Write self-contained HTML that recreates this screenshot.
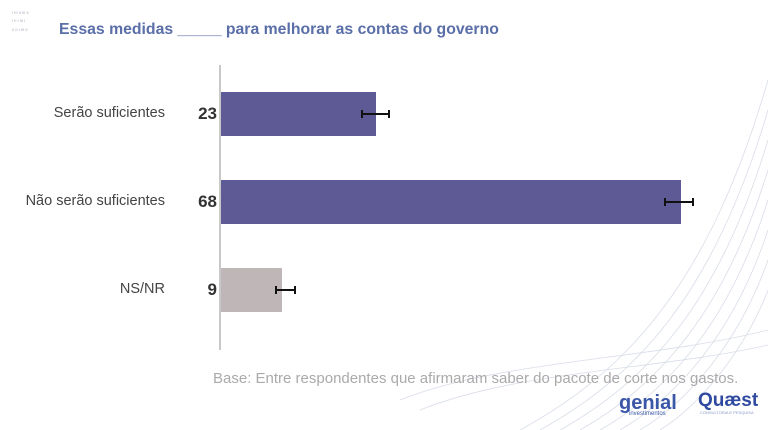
<!DOCTYPE html>
<html><head><meta charset="utf-8"><style>
html,body{margin:0;padding:0;background:#fff;}
body{width:768px;height:430px;position:relative;overflow:hidden;font-family:"Liberation Sans",sans-serif;}
.t{position:absolute;white-space:nowrap;}
</style></head><body>
<svg width="768" height="430" style="position:absolute;left:0;top:0">
  <g fill="none" stroke="#d8dde8" stroke-width="0.8">
    <path d="M560 430 C650 380 720 300 768 140"/>
    <path d="M580 430 C660 385 725 310 768 170"/>
    <path d="M600 430 C670 390 730 320 768 200"/>
    <path d="M620 430 C680 395 735 330 768 230"/>
    <path d="M640 430 C690 400 740 340 768 260"/>
    <path d="M660 430 C700 405 745 350 768 290"/>
    <path d="M540 430 C640 375 715 290 768 110"/>
    <path d="M520 430 C630 370 710 280 768 80"/>
    <path d="M400 400 C500 360 650 360 768 330"/>
    <path d="M420 410 C520 370 660 370 768 345"/>
  </g>
  <line x1="220" y1="65" x2="220" y2="350" stroke="#c8c8c8" stroke-width="2"/>
  <rect x="221" y="92" width="155" height="44" fill="#5d5a96"/>
  <rect x="221" y="180" width="460" height="44" fill="#5d5a96"/>
  <rect x="221" y="268" width="61" height="44" fill="#bfb7b7"/>
  <g stroke="#111" stroke-width="2">
    <line x1="362" y1="114" x2="389" y2="114"/><line x1="362" y1="110" x2="362" y2="118"/><line x1="389" y1="110" x2="389" y2="118"/>
    <line x1="665" y1="202" x2="693" y2="202"/><line x1="665" y1="198" x2="665" y2="206"/><line x1="693" y1="198" x2="693" y2="206"/>
    <line x1="276" y1="290" x2="295" y2="290"/><line x1="276" y1="286" x2="276" y2="294"/><line x1="295" y1="286" x2="295" y2="294"/>
  </g>
  <g fill="#aab" font-size="4">
    <text x="12" y="14">I III II III II</text><text x="12" y="22">I II I III I</text><text x="12" y="31">II II I III II</text>
  </g>
</svg>
<div class="t" style="left:59px;top:21px;font-size:15.8px;font-weight:bold;color:#5a6ea8;">Essas medidas _____ para melhorar as contas do governo</div>
<div class="t" style="right:603px;top:105px;font-size:14.5px;color:#444;">Serão suficientes</div>
<div class="t" style="right:603px;top:193px;font-size:14.5px;color:#444;">Não serão suficientes</div>
<div class="t" style="right:603px;top:281px;font-size:14.5px;color:#444;">NS/NR</div>
<div class="t" style="right:551px;top:104px;font-size:17px;font-weight:bold;color:#333;">23</div>
<div class="t" style="right:551px;top:192px;font-size:17px;font-weight:bold;color:#333;">68</div>
<div class="t" style="right:551px;top:280px;font-size:17px;font-weight:bold;color:#333;">9</div>
<div class="t" style="left:213px;top:370px;font-size:15px;color:#aaa;">Base: Entre respondentes que afirmaram saber do pacote de corte nos gastos.</div>
<div class="t" style="left:619px;top:392px;font-size:20px;font-weight:bold;color:#3a57a8;">genial</div>
<div class="t" style="left:629px;top:411px;font-size:6px;color:#3a57a8;">investimentos</div>
<div class="t" style="left:698px;top:390px;font-size:19px;font-weight:bold;color:#2f4aa0;">Quæst</div>
<div class="t" style="left:700px;top:410px;font-size:4px;color:#8898c8;">CONSULTORIA E PESQUISA</div>
</body></html>
